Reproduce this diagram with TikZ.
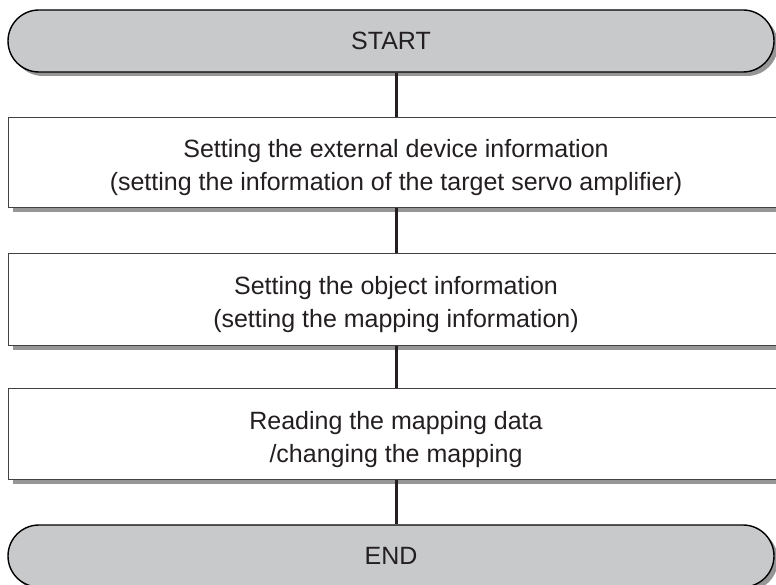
\documentclass[tikz,border=0pt]{standalone}
\usepackage{fontspec}
\setmainfont{Liberation Sans}
\usetikzlibrary{shapes.misc,shadows}
\definecolor{ink}{HTML}{231F20}
\definecolor{termfill}{HTML}{C8C9CB}
\definecolor{shade}{HTML}{969696}
\begin{document}
\begin{tikzpicture}[x=1pt,y=1pt,
  every node/.style={font=\fontsize{25}{33}\selectfont, text=ink},
  term/.style={rounded rectangle, draw=black, line width=1.4pt, fill=termfill,
    minimum width=766pt, minimum height=62pt, inner sep=0pt,
    drop shadow={shadow xshift=4pt, shadow yshift=-4pt, fill=shade, opacity=1}},
  stepbox/.style={rectangle, draw=ink!85, line width=1.2pt, fill=white,
    minimum width=776pt, inner sep=0pt,
    drop shadow={shadow xshift=4pt, shadow yshift=-4pt, fill=shade, opacity=1}},
  steptext/.style={align=center, inner sep=0pt, yshift=-5pt},
  link/.style={draw=ink, line width=3pt}]
\clip (0,0) rectangle (776,-585);
\fill[white] (0,0) rectangle (776,-585);
\coordinate (cx) at (396,0);
\node[term] (start) at (391,-41) {START};
\node[stepbox, minimum height=90pt, anchor=north west] (s1) at (8,-117) {};
\node[steptext] (t1) at (s1.center -| cx)
  {Setting the external device information\\(setting the information of the target servo amplifier)};
\node[stepbox, minimum height=92pt, anchor=north west] (s2) at (8,-253) {};
\node[steptext] (t2) at (s2.center -| cx)
  {Setting the object information\\(setting the mapping information)};
\node[stepbox, minimum height=91pt, anchor=north west] (s3) at (8,-388) {};
\node[steptext] (t3) at (s3.center -| cx)
  {Reading the mapping data\\/changing the mapping};
\node[term] (end) at (391,-556) {END};
\draw[link] (start.south -| cx) -- (s1.north -| cx);
\draw[link] (s1.south -| cx) -- (s2.north -| cx);
\draw[link] (s2.south -| cx) -- (s3.north -| cx);
\draw[link] (s3.south -| cx) -- (end.north -| cx);
\end{tikzpicture}
\end{document}
